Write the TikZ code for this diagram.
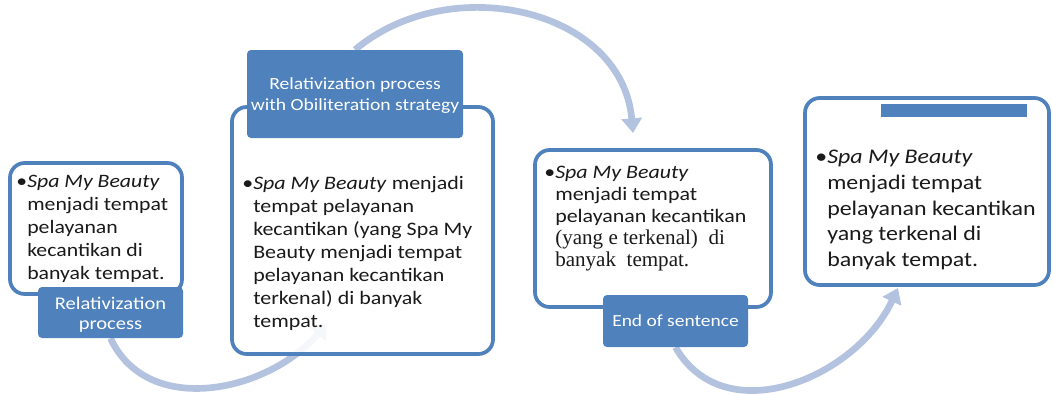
\documentclass[tikz,border=0pt]{standalone}
\usepackage{fontspec}
\setmainfont{Carlito}[FakeStretch=1.15]
\newfontfamily\seriffam{Liberation Serif}
\usetikzlibrary{arrows.meta,fit}
\definecolor{boxblue}{HTML}{4F81BD}
\definecolor{arrowblue}{HTML}{B3C3DF}
\definecolor{ink}{HTML}{1A1A1A}
\pgfdeclarelayer{bg}
\pgfsetlayers{bg,main}
\begin{document}
\begin{tikzpicture}[x=0.75pt,y=-0.75pt,
  box/.style={draw=boxblue, line width=2.8pt, rounded corners=11pt, fill=white, fill opacity=0.88, text opacity=1, inner sep=0pt},
  lab/.style={fill=boxblue, rounded corners=3pt, inner sep=0pt},
  labtxt/.style={inner sep=0pt, text=white, align=center},
  flow/.style={draw=arrowblue, line width=5pt, -{Triangle[width=15pt,length=11pt]}},
  txt/.style={anchor=north west, inner sep=0pt, align=left, text=ink}]
\useasboundingbox (0,0) rectangle (1053,394);
% boxes
\coordinate (b1nw) at (10,163); \coordinate (b1se) at (182,294);
\coordinate (b2nw) at (232,107); \coordinate (b2se) at (493,354);
\coordinate (b3nw) at (535,150); \coordinate (b3se) at (771,307);
\coordinate (b4nw) at (805,98);  \coordinate (b4se) at (1049,285);
\node[box, fit=(b1nw)(b1se)] (b1) {};
\node[box, fit=(b2nw)(b2se)] (b2) {};
\node[box, fit=(b3nw)(b3se)] (b3) {};
\node[box, fit=(b4nw)(b4se)] (b4) {};
% texts
\node[txt, font=\fontsize{14.2}{17.25}\selectfont] (t1) at (27,175)
  {\llap{•}\textit{Spa My Beauty}\\menjadi tempat\\pelayanan\\kecantikan di\\banyak tempat.};
\node[txt, font=\fontsize{14.3}{17.3}\selectfont] (t2) at (253,176)
  {\llap{•}\textit{Spa My Beauty} menjadi\\tempat pelayanan\\kecantikan (yang Spa My\\Beauty menjadi tempat\\pelayanan kecantikan\\terkenal) di banyak\\tempat.};
\node[txt, font=\fontsize{14.3}{16.5}\selectfont] (t3) at (555,166)
  {\llap{•}\textit{Spa My Beauty}\\menjadi tempat\\pelayanan kecantikan\\{\seriffam\fontsize{15.8}{16.5}\selectfont (yang e terkenal)\ \ di}\\{\seriffam\fontsize{15.8}{16.5}\selectfont banyak\ \ tempat.}};
\node[txt, font=\fontsize{15.6}{19.3}\selectfont] (t4) at (827,150)
  {\llap{•}\textit{Spa My Beauty}\\menjadi tempat\\pelayanan kecantikan\\yang terkenal di\\banyak tempat.};
% labels
\coordinate (l1nw) at (38,287);  \coordinate (l1se) at (183,338);
\coordinate (l2nw) at (247,50);  \coordinate (l2se) at (463,138);
\coordinate (l3nw) at (603,295); \coordinate (l3se) at (748,347);
\coordinate (l4nw) at (881,104); \coordinate (l4se) at (1027,117);
\node[lab, fit=(l1nw)(l1se)] (l1) {};
\node[lab, fit=(l2nw)(l2se)] (l2) {};
\node[lab, fit=(l3nw)(l3se)] (l3) {};
\node[lab, fit=(l4nw)(l4se), rounded corners=0pt] (l4) {};
\node[labtxt, font=\fontsize{13.4}{15}\selectfont] (l1t) at ([yshift=-1.5pt]l1.center) {Relativization\\process};
\node[labtxt, font=\fontsize{12.8}{15.5}\selectfont] (l2t) at ([yshift=-1pt]l2.center) {Relativization process\\with Obiliteration strategy};
\node[labtxt, font=\fontsize{12.7}{15}\selectfont] (l3t) at (l3.center) {End of sentence};
% arrows
\coordinate (a1e) at (327,323);
\coordinate (a2e) at (633,133);
\coordinate (a3e) at (898,288);
\begin{pgfonlayer}{bg}
\draw[flow] (l1.south) to[out=-65,in=-130,looseness=1.05] (a1e);
\draw[flow] (l2.north) to[out=40,in=95,looseness=1.1] (a2e);
\draw[flow] (l3.south) to[out=-60,in=-115,looseness=1.1] (a3e);
\end{pgfonlayer}
\end{tikzpicture}
\end{document}
